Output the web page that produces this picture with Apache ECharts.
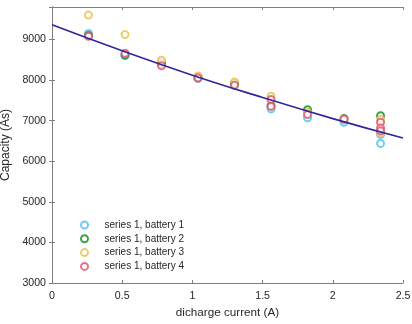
<!DOCTYPE html>
<html>
<head>
<meta charset="utf-8">
<script src="https://cdn.jsdelivr.net/npm/echarts@6/dist/echarts.min.js"></script>
<style>
  html, body { margin: 0; padding: 0; background: #fff; }
  #chart { width: 412px; height: 324px; }
</style>
</head>
<body>
<div id="chart"></div>
<script>
// measurements: [discharge current (A), capacity (As)]
const battery1 = [[0.26, 9150], [0.52, 8600], [0.78, 8400], [1.04, 8040], [1.30, 7900],
  [1.56, 7290], [1.82, 7070], [2.08, 6960], [2.34, 6660], [2.34, 6440]];
const battery2 = [[0.26, 9100], [0.52, 8620], [0.78, 8420], [1.04, 8060], [1.30, 7920],
  [1.56, 7370], [1.82, 7270], [2.08, 7050], [2.34, 7120]];
const battery3 = [[0.26, 9600], [0.52, 9120], [0.78, 8490], [1.04, 8100], [1.30, 7950],
  [1.56, 7600], [1.82, 7200], [2.08, 7020], [2.34, 7030], [2.34, 6700]];
const battery4 = [[0.26, 9080], [0.52, 8660], [0.78, 8350], [1.04, 8050], [1.30, 7870],
  [1.56, 7520], [1.56, 7350], [1.82, 7150], [2.08, 7040], [2.34, 6960], [2.34, 6820], [2.34, 6750]];
// fitted curve
const fitCurve = [[0, 9360], [0.5, 8720], [1, 8120], [1.5, 7570], [2, 7050], [2.5, 6570]];

const names = ['series 1, battery 1', 'series 1, battery 2', 'series 1, battery 3', 'series 1, battery 4'];
const colors = ['#4dbeee', '#0b8a1e', '#e6c045', '#e0506a'];
const sets = [battery1, battery2, battery3, battery4];

const axisColor = '#7f7f7f';
const textColor = '#262626';
const font = 'Liberation Sans, Arial, sans-serif';

const chart = echarts.init(document.getElementById('chart'), null, {renderer: 'canvas'});

const scatter = sets.map((d, i) => ({
  name: names[i],
  type: 'scatter',
  symbol: 'emptyCircle',
  symbolSize: 7,
  itemStyle: {color: colors[i], borderColor: colors[i], borderWidth: i === 1 ? 1.8 : 1.3},
  z: 2,
  data: d,
}));

const option = {
  animation: false,
  textStyle: {fontFamily: font},
  grid: {left: 52, right: 9, top: 7, bottom: 41, outerBoundsMode: 'none', containLabel: false},
  legend: {
    orient: 'vertical',
    left: 75,
    top: 215,
    icon: 'emptyCircle',
    itemWidth: 10,
    itemHeight: 7,
    itemGap: 3.8,
    textStyle: {fontSize: 10, color: textColor, fontFamily: font, padding: [0, 0, 0, 10]},
    data: names,
  },
  xAxis: [
    {
      type: 'value', min: 0, max: 2.5, interval: 0.5,
      name: 'dicharge current (A)', nameLocation: 'middle', nameGap: 22,
      nameTextStyle: {fontSize: 11.7, color: textColor},
      axisLine: {lineStyle: {color: axisColor}},
      axisTick: {inside: true, length: 3, lineStyle: {color: axisColor}},
      axisLabel: {fontSize: 10.6, color: textColor, margin: 8},
      splitLine: {show: false},
    },
    {
      type: 'value', min: 0, max: 2.5, interval: 0.5, position: 'top',
      axisLine: {show: true, lineStyle: {color: axisColor}},
      axisTick: {show: true, inside: true, length: 3, lineStyle: {color: axisColor}},
      axisLabel: {show: false},
      splitLine: {show: false},
    },
  ],
  yAxis: [
    {
      type: 'value', min: 3000, max: 9800, interval: 1000,
      name: 'Capacity (As)', nameLocation: 'middle', nameGap: 33,
      nameTextStyle: {fontSize: 12, color: textColor},
      axisLine: {show: true, lineStyle: {color: axisColor}},
      axisTick: {show: true, inside: true, length: 3, lineStyle: {color: axisColor}},
      axisLabel: {fontSize: 10.6, color: textColor, margin: 6, showMaxLabel: false,
        formatter: v => String(v)},
      splitLine: {show: false},
    },
    {
      type: 'value', min: 3000, max: 9800, interval: 1000, position: 'right',
      axisLine: {show: true, lineStyle: {color: axisColor}},
      axisTick: {show: true, inside: true, length: 3, lineStyle: {color: axisColor}},
      axisLabel: {show: false},
      splitLine: {show: false},
    },
  ],
  series: [
    ...scatter,
    {
      name: 'fit',
      type: 'line',
      smooth: true,
      symbol: 'none',
      lineStyle: {color: '#33259a', width: 1.6},
      z: 3,
      data: fitCurve,
    },
  ],
};

chart.setOption(option);
</script>
</body>
</html>
